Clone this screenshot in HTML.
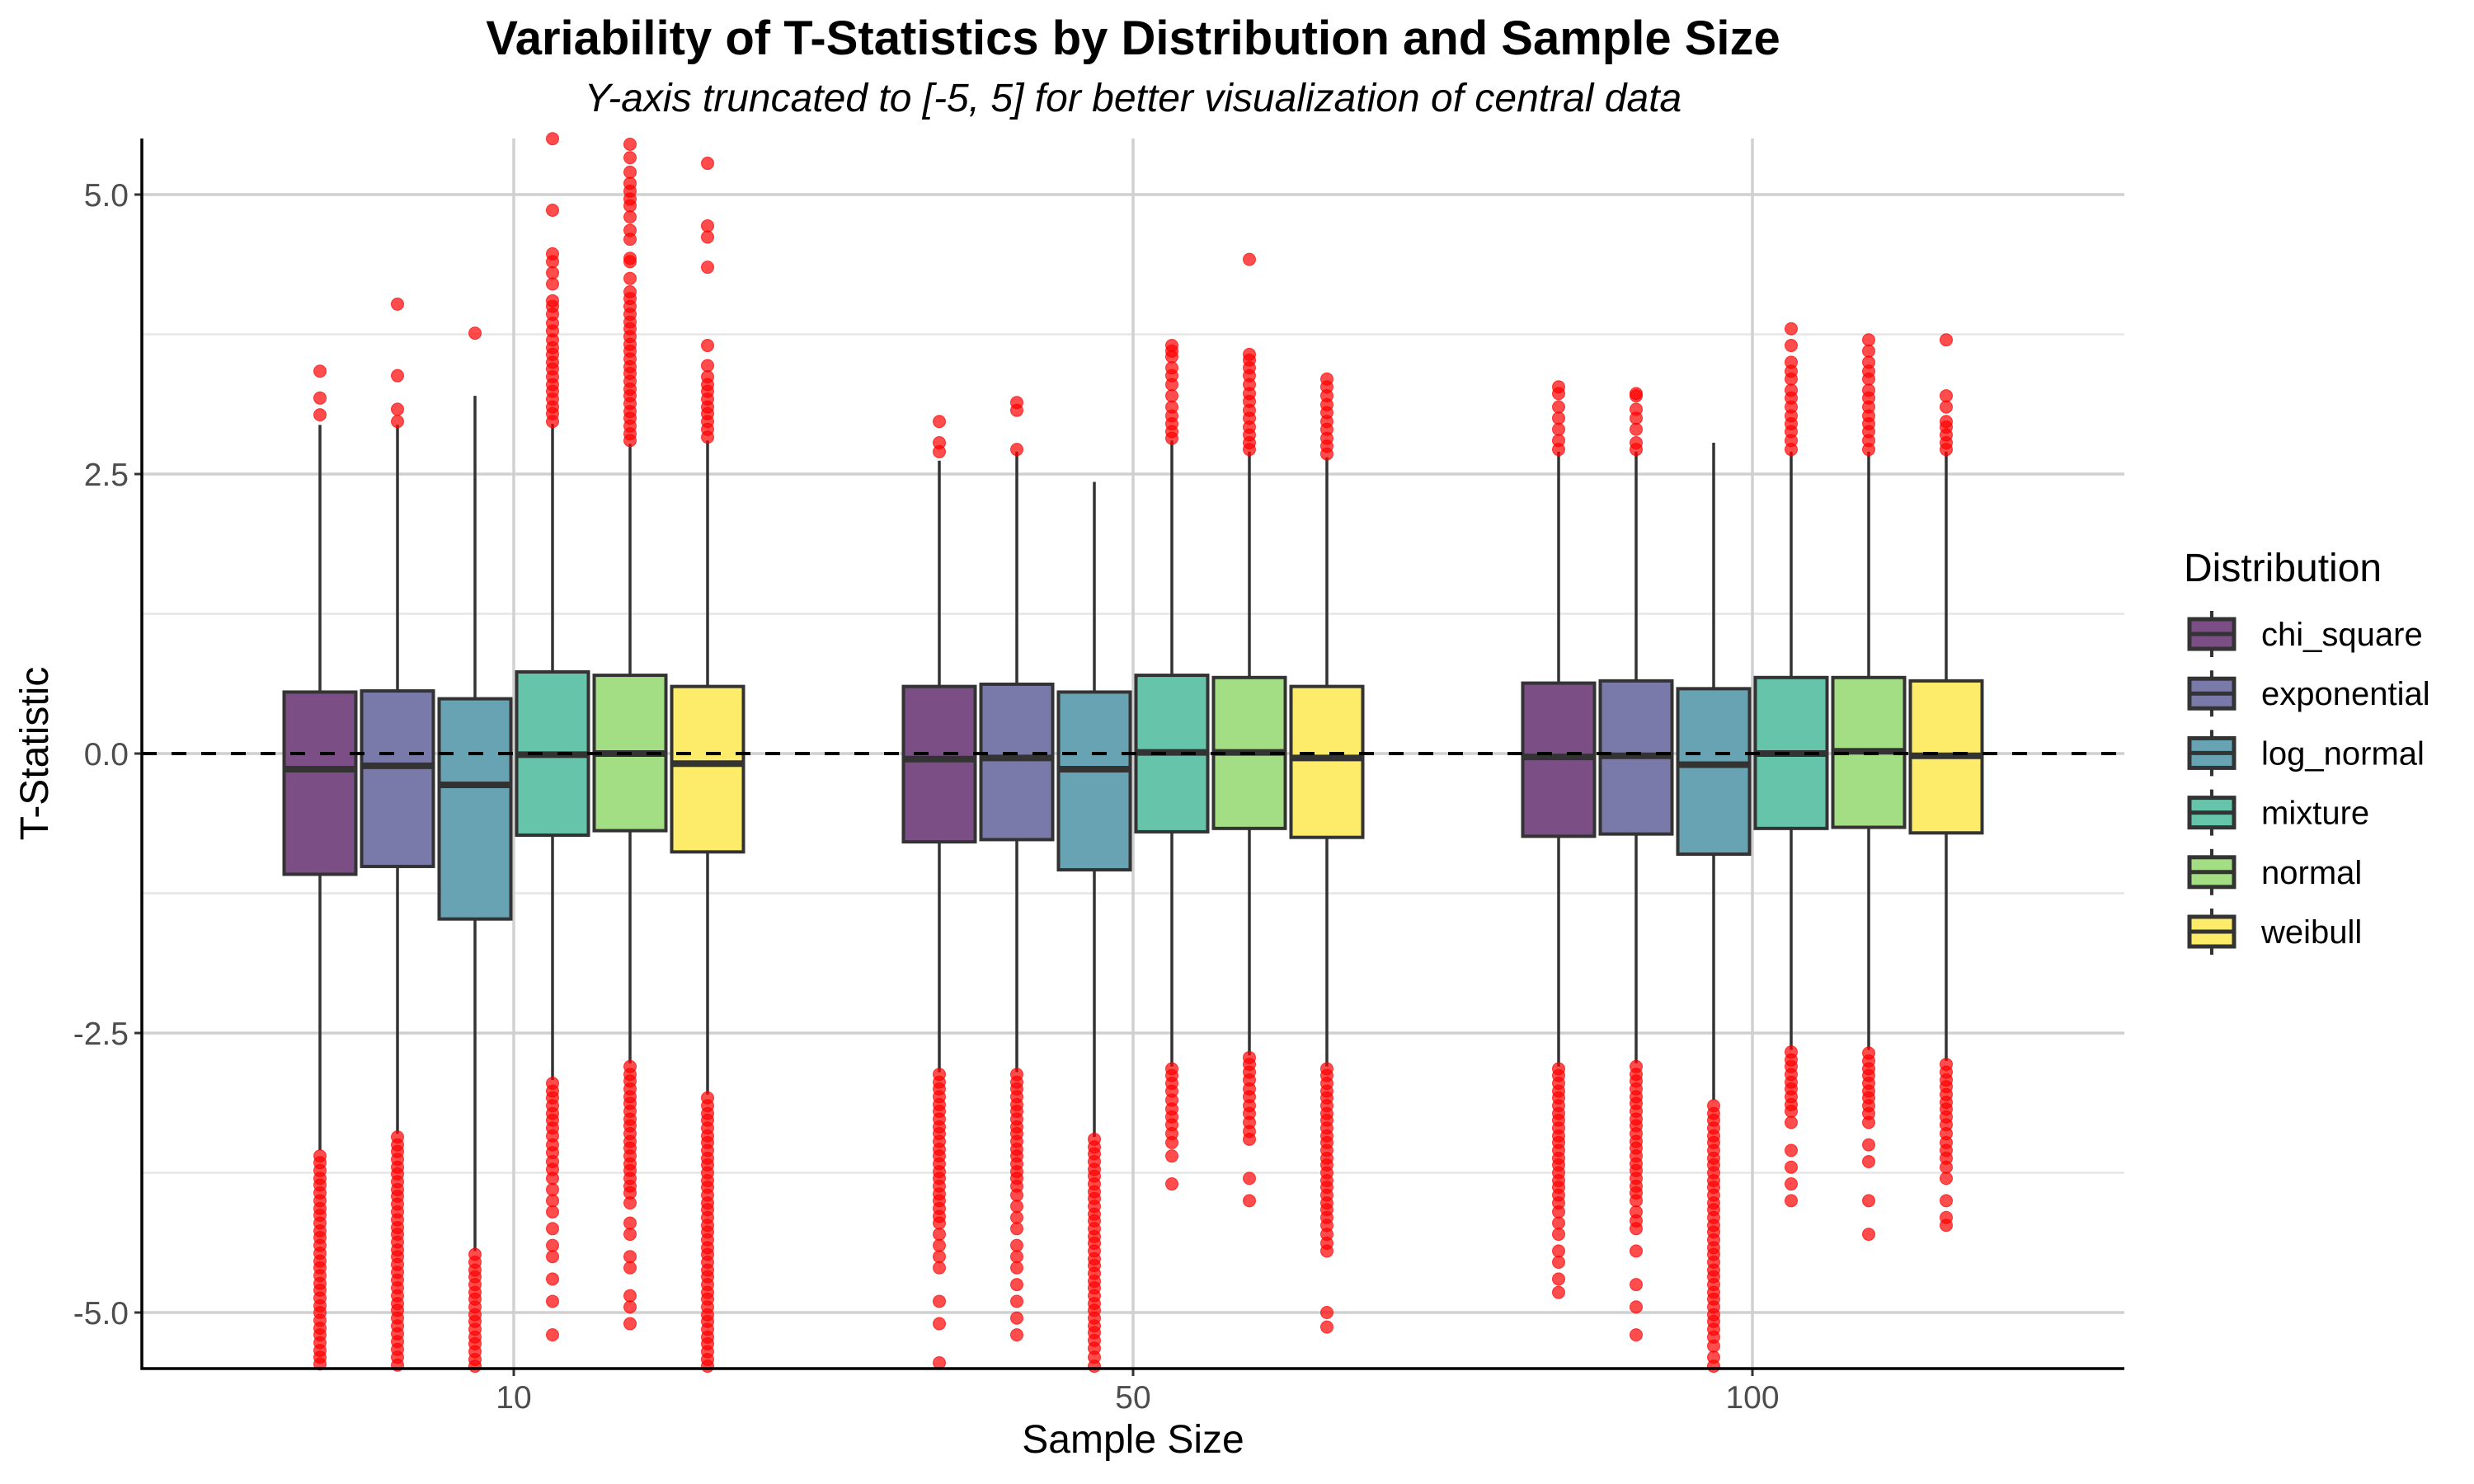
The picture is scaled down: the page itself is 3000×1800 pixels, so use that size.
<!DOCTYPE html>
<html><head><meta charset="utf-8"><style>
html,body{margin:0;padding:0;background:#fff;}
svg{display:block;font-family:"Liberation Sans",Arial,sans-serif;}
</style></head><body>
<svg id="chart" width="3000" height="1800" viewBox="0 0 3000 1800" xmlns="http://www.w3.org/2000/svg">
<rect x="0" y="0" width="3000" height="1800" fill="#fff"/>
<g id="grid"></g><g id="marks"></g><g id="axes"></g>
<text x="1374" y="66" text-anchor="middle" font-size="58" font-weight="bold" fill="#000">Variability of T-Statistics by Distribution and Sample Size</text>
<text x="1374" y="135" text-anchor="middle" font-size="48" font-style="italic" fill="#000">Y-axis truncated to [-5, 5] for better visualization of central data</text>
<text x="1374" y="1762" text-anchor="middle" font-size="48" fill="#000">Sample Size</text>
<text transform="translate(58,914) rotate(-90)" text-anchor="middle" font-size="48" fill="#000">T-Statistic</text>
<g id="legend">
<text x="2648" y="705" font-size="48" fill="#000">Distribution</text>
</g>
</svg>
<script>
const categories = ["10", "50", "100"];
const distributions = ["chi_square", "exponential", "log_normal", "mixture", "normal", "weibull"];
const colors = ["#7b4e86", "#7a7aaa", "#67a3b3", "#66c4aa", "#a4de84", "#fcec6a"];
const yTicks = [-5, -2.5, 0, 2.5, 5];
const yTickLabels = ["-5.0", "-2.5", "0.0", "2.5", "5.0"];
const yMinor = [-3.75, -1.25, 1.25, 3.75];
// per group rows: [chi, exp, log, mix, norm, weib]
const q1 = [[-1.08,-1.01,-1.48,-0.73,-0.69,-0.88],[-0.79,-0.77,-1.04,-0.70,-0.67,-0.75],[-0.74,-0.72,-0.90,-0.67,-0.66,-0.71]];
const med = [[-0.14,-0.11,-0.28,-0.01,0.00,-0.09],[-0.05,-0.04,-0.14,0.01,0.01,-0.04],[-0.03,-0.02,-0.10,0.00,0.02,-0.02]];
const q3 = [[0.55,0.56,0.49,0.73,0.70,0.60],[0.60,0.62,0.55,0.70,0.68,0.60],[0.63,0.65,0.58,0.68,0.68,0.65]];
const whiHi = [[2.94,2.94,3.20,2.95,2.77,2.80],[2.62,2.70,2.43,2.80,2.70,2.65],[2.70,2.70,2.78,2.70,2.70,2.70]];
const whiLo = [[-3.55,-3.40,-4.45,-2.92,-2.77,-3.05],[-2.85,-2.85,-3.43,-2.80,-2.70,-2.80],[-2.80,-2.77,-3.10,-2.65,-2.65,-2.75]];
const outliers = [
 [
  [3.42,3.18,3.03,-3.6,-3.66,-3.73,-3.8,-3.86,-3.93,-4,-4.07,-4.13,-4.2,-4.27,-4.33,-4.4,-4.47,-4.54,-4.6,-4.67,-4.74,-4.8,-4.87,-4.94,-5,-5.07,-5.14,-5.2,-5.27,-5.34,-5.4,-5.46],
  [4.02,3.38,3.08,2.97,-3.43,-3.5,-3.56,-3.63,-3.7,-3.76,-3.83,-3.9,-3.96,-4.03,-4.1,-4.17,-4.24,-4.3,-4.37,-4.44,-4.5,-4.57,-4.64,-4.71,-4.78,-4.85,-4.92,-4.98,-5.05,-5.12,-5.19,-5.26,-5.33,-5.4,-5.47],
  [3.76,-4.48,-4.55,-4.62,-4.68,-4.75,-4.82,-4.88,-4.95,-5.02,-5.08,-5.15,-5.22,-5.28,-5.35,-5.42,-5.48],
  [2.97,3.04,3.1,3.17,3.24,3.3,3.37,3.44,3.5,3.57,3.63,3.7,3.78,3.85,3.93,4.0,4.05,4.2,4.3,4.4,4.47,4.86,5.5,-2.95,-3.02,-3.08,-3.15,-3.22,-3.28,-3.35,-3.42,-3.5,-3.57,-3.65,-3.72,-3.8,-3.9,-4.0,-4.1,-4.25,-4.4,-4.5,-4.7,-4.9,-5.2],
  [2.8,2.86,2.93,3.0,3.06,3.13,3.2,3.26,3.33,3.4,3.46,3.53,3.6,3.66,3.73,3.8,3.86,3.93,4.0,4.07,4.13,4.25,4.4,4.43,4.6,4.68,4.8,4.9,4.96,5.03,5.1,5.2,5.33,5.45,-2.8,-2.87,-2.93,-3.0,-3.07,-3.13,-3.2,-3.27,-3.33,-3.4,-3.47,-3.53,-3.6,-3.67,-3.73,-3.8,-3.87,-3.93,-4.02,-4.2,-4.3,-4.5,-4.6,-4.85,-4.95,-5.1],
  [2.83,2.9,2.97,3.04,3.1,3.17,3.24,3.3,3.37,3.47,3.65,4.35,4.62,4.72,5.28,-3.08,-3.15,-3.22,-3.28,-3.35,-3.42,-3.48,-3.55,-3.62,-3.68,-3.75,-3.82,-3.88,-3.95,-4.02,-4.08,-4.15,-4.22,-4.28,-4.35,-4.42,-4.48,-4.55,-4.62,-4.68,-4.75,-4.82,-4.88,-4.95,-5.02,-5.08,-5.15,-5.22,-5.28,-5.35,-5.42,-5.48]
 ],
 [
  [2.7,2.78,2.97,-2.87,-2.94,-3.0,-3.07,-3.14,-3.2,-3.27,-3.34,-3.4,-3.47,-3.54,-3.6,-3.67,-3.74,-3.8,-3.87,-3.94,-4.0,-4.07,-4.14,-4.2,-4.3,-4.4,-4.5,-4.6,-4.9,-5.1,-5.45],
  [2.72,3.07,3.14,-2.87,-2.94,-3.0,-3.07,-3.14,-3.2,-3.27,-3.34,-3.4,-3.47,-3.54,-3.6,-3.67,-3.74,-3.8,-3.87,-3.95,-4.05,-4.15,-4.25,-4.4,-4.5,-4.6,-4.75,-4.9,-5.05,-5.2],
  [-3.45,-3.52,-3.58,-3.65,-3.72,-3.78,-3.85,-3.92,-3.98,-4.05,-4.12,-4.18,-4.25,-4.32,-4.38,-4.45,-4.52,-4.58,-4.65,-4.72,-4.78,-4.85,-4.92,-4.98,-5.05,-5.12,-5.18,-5.25,-5.32,-5.4,-5.48],
  [2.82,2.88,2.95,3.02,3.1,3.2,3.3,3.38,3.45,3.55,3.6,3.65,-2.82,-2.88,-2.95,-3.02,-3.1,-3.18,-3.25,-3.32,-3.4,-3.48,-3.6,-3.85],
  [2.72,2.78,2.85,2.92,3.0,3.07,3.15,3.22,3.3,3.38,3.45,3.52,3.57,4.42,-2.72,-2.78,-2.85,-2.92,-3.0,-3.07,-3.15,-3.22,-3.3,-3.38,-3.45,-3.8,-4.0],
  [2.68,2.75,2.82,2.9,2.97,3.05,3.12,3.2,3.28,3.35,-2.82,-2.88,-2.95,-3.02,-3.08,-3.15,-3.22,-3.28,-3.35,-3.42,-3.48,-3.55,-3.62,-3.68,-3.75,-3.82,-3.88,-3.95,-4.02,-4.08,-4.15,-4.22,-4.3,-4.38,-4.45,-5.0,-5.13]
 ],
 [
  [2.72,2.8,2.9,3.0,3.1,3.22,3.28,-2.82,-2.88,-2.95,-3.02,-3.08,-3.15,-3.22,-3.28,-3.35,-3.42,-3.48,-3.55,-3.62,-3.68,-3.75,-3.82,-3.88,-3.95,-4.02,-4.1,-4.2,-4.3,-4.45,-4.55,-4.7,-4.82],
  [2.72,2.78,2.9,3.0,3.08,3.2,3.22,-2.8,-2.87,-2.93,-3.0,-3.07,-3.13,-3.2,-3.27,-3.33,-3.4,-3.47,-3.53,-3.6,-3.67,-3.73,-3.8,-3.87,-3.93,-4.0,-4.1,-4.18,-4.25,-4.45,-4.75,-4.95,-5.2],
  [-3.15,-3.22,-3.28,-3.35,-3.42,-3.48,-3.55,-3.62,-3.68,-3.75,-3.82,-3.88,-3.95,-4.02,-4.08,-4.15,-4.22,-4.28,-4.35,-4.42,-4.48,-4.55,-4.62,-4.68,-4.75,-4.82,-4.88,-4.95,-5.02,-5.08,-5.15,-5.22,-5.3,-5.4,-5.48],
  [2.72,2.8,2.88,2.95,3.02,3.1,3.18,3.25,3.35,3.42,3.5,3.65,3.8,-2.67,-2.74,-2.8,-2.87,-2.94,-3.0,-3.07,-3.14,-3.2,-3.3,-3.55,-3.7,-3.85,-4.0],
  [2.72,2.8,2.88,2.95,3.02,3.1,3.18,3.25,3.35,3.42,3.5,3.6,3.7,-2.68,-2.75,-2.82,-2.88,-2.95,-3.02,-3.08,-3.15,-3.22,-3.3,-3.5,-3.65,-4.0,-4.3],
  [2.72,2.78,2.85,2.92,2.97,3.1,3.2,3.7,-2.78,-2.85,-2.92,-2.98,-3.05,-3.12,-3.18,-3.25,-3.32,-3.4,-3.48,-3.55,-3.62,-3.7,-3.8,-4.0,-4.15,-4.22]
 ]
];

const NS = "http://www.w3.org/2000/svg";
const PL = 172, PR = 2576, PT = 168, PB = 1660;
function yS(v){ return 914 - v * 135.6; }
function xG(g){ return 623 + g * 751; }
function xB(g, d){ return xG(g) + (d - 2.5) * 94; }
function mk(tag, attrs, parent){
  const e = document.createElementNS(NS, tag);
  for (const k in attrs) e.setAttribute(k, attrs[k]);
  parent.appendChild(e);
  return e;
}
const grid = document.getElementById("grid");
const marks = document.getElementById("marks");
const axes = document.getElementById("axes");

yMinor.forEach(v => {
  const l = mk("line", {x1: PL, x2: PR, y1: yS(v), y2: yS(v), stroke: "#e6e6e6", "stroke-width": 2.5}, grid);
  
  
});
yTicks.forEach((v, i) => {
  const l = mk("line", {x1: PL, x2: PR, y1: yS(v), y2: yS(v), stroke: "#d0d0d0", "stroke-width": 3.5}, grid);
  
  
  const t = mk("line", {x1: PL - 9, x2: PL, y1: yS(v), y2: yS(v), stroke: "#333", "stroke-width": 3}, axes);
  
  
  const tx = mk("text", {x: PL - 16, y: yS(v) + 14, "text-anchor": "end", "font-size": 39, fill: "#4d4d4d"}, axes);
  tx.textContent = yTickLabels[i];
  
  
});
categories.forEach((c, g) => {
  const l = mk("line", {x1: xG(g), x2: xG(g), y1: PT, y2: PB, stroke: "#d0d0d0", "stroke-width": 3.5}, grid);
  
  
  const t = mk("line", {x1: xG(g), x2: xG(g), y1: PB, y2: PB + 9, stroke: "#333", "stroke-width": 3}, axes);
  
  
  const tx = mk("text", {x: xG(g), y: PB + 48, "text-anchor": "middle", "font-size": 39, fill: "#4d4d4d"}, axes);
  tx.textContent = c;
  
  
});

const bw = 87;
categories.forEach((c, g) => {
  distributions.forEach((dn, d) => {
    const cx = xB(g, d);
    const grp = mk("g", {}, marks);
    
    
    const w1 = mk("line", {x1: cx, x2: cx, y1: yS(q3[g][d]), y2: yS(whiHi[g][d]), stroke: "#333", "stroke-width": 3.5}, grp);
    
    
    const w2 = mk("line", {x1: cx, x2: cx, y1: yS(q1[g][d]), y2: yS(whiLo[g][d]), stroke: "#333", "stroke-width": 3.5}, grp);
    
    
    const r = mk("rect", {x: cx - bw/2, y: yS(q3[g][d]), width: bw, height: yS(q1[g][d]) - yS(q3[g][d]), fill: colors[d], stroke: "#333", "stroke-width": 4}, grp);
    
    
    const m = mk("line", {x1: cx - bw/2, x2: cx + bw/2, y1: yS(med[g][d]), y2: yS(med[g][d]), stroke: "#333", "stroke-width": 8}, grp);
    
    
    outliers[g][d].forEach(v => {
      if (v > 5.55 || v < -5.55) return;
      const p = mk("circle", {cx: cx, cy: yS(v), r: 7.5, fill: "#ff0000", "fill-opacity": 0.7, stroke: "#ff0000", "stroke-opacity": 0.7, "stroke-width": 1}, grp);
      
      
    });
  });
});

const zl = mk("line", {x1: PL, x2: PR, y1: yS(0), y2: yS(0), stroke: "#000", "stroke-width": 4, "stroke-dasharray": "18 18"}, marks);


const ya = mk("line", {x1: PL, x2: PL, y1: PT, y2: PB + 1.5, stroke: "#000", "stroke-width": 3.5}, axes);


const xa = mk("line", {x1: PL - 1.5, x2: PR, y1: PB, y2: PB, stroke: "#000", "stroke-width": 3.5}, axes);



const legend = document.getElementById("legend");
distributions.forEach((dn, i) => {
  const cy = 769 + i * 72.2;
  const g = mk("g", {}, legend);
  
  
  mk("line", {x1: 2682, x2: 2682, y1: cy - 28, y2: cy + 28, stroke: "#333", "stroke-width": 4}, g);
  mk("rect", {x: 2655, y: cy - 18, width: 54, height: 36, fill: colors[i], stroke: "#333", "stroke-width": 5}, g);
  mk("line", {x1: 2655, x2: 2709, y1: cy, y2: cy, stroke: "#333", "stroke-width": 5}, g);
  const t = mk("text", {x: 2742, y: cy + 14, "font-size": 40, fill: "#000"}, g);
  t.textContent = dn;
  
  
});
</script>
</body></html>
